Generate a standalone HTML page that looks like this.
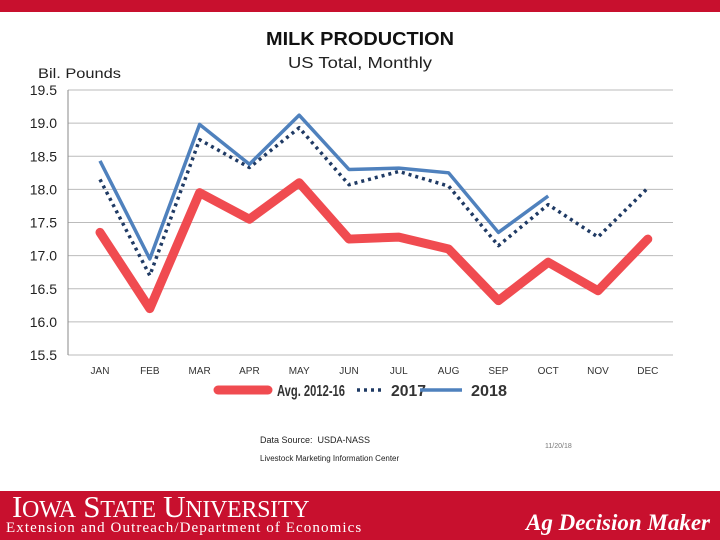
<!DOCTYPE html>
<html><head><meta charset="utf-8"><style>
body{margin:0;width:720px;height:540px;overflow:hidden;background:#fff;font-family:"Liberation Sans",sans-serif;position:relative}
.abs{position:absolute;white-space:nowrap}
</style></head><body>
<div class="abs" style="left:0;top:0;width:720px;height:12px;background:#c8102e"></div>
<svg id="chart" width="720" height="490" style="position:absolute;left:0;top:0" font-family="Liberation Sans, sans-serif"></svg>
<div class="abs" style="left:260px;top:435px;font-size:9px;color:#222">Data Source:&nbsp; USDA-NASS</div>
<div class="abs" style="left:260px;top:454px;font-size:8px;color:#222">Livestock Marketing Information Center</div>
<div class="abs" style="left:545px;top:443px;font-size:7px;color:#777">11/20/18</div>
<div class="abs" style="left:0;top:491px;width:720px;height:49px;background:#c8102e"></div>
<div class="abs" style="left:12px;top:489px;font-family:'Liberation Serif',serif;font-size:31px;color:#fff;letter-spacing:-0.3px">I<span style="font-size:24px">OWA</span> S<span style="font-size:24px">TATE</span> U<span style="font-size:24px">NIVERSITY</span></div>
<div class="abs" style="left:6px;top:520px;font-family:'Liberation Serif',serif;font-size:15px;letter-spacing:1.1px;color:#fff">Extension and Outreach/Department of Economics</div>
<div class="abs" style="left:526px;top:510px;font-family:'Liberation Serif',serif;font-size:23px;font-weight:bold;font-style:italic;color:#fff">Ag Decision Maker</div>
<script>
const months=["JAN","FEB","MAR","APR","MAY","JUN","JUL","AUG","SEP","OCT","NOV","DEC"];
const yTicks=[15.5,16.0,16.5,17.0,17.5,18.0,18.5,19.0,19.5];
const avg1216=[17.35,16.2,17.95,17.55,18.1,17.25,17.28,17.1,16.32,16.9,16.47,17.25];
const y2017=[18.15,16.7,18.75,18.33,18.93,18.07,18.27,18.05,17.15,17.77,17.28,18.02];
const y2018=[18.43,16.95,18.98,18.38,19.12,18.3,18.32,18.25,17.35,17.9];
const svg=document.getElementById('chart');const NS='http://www.w3.org/2000/svg';
function x(i){return 100+i*49.8;}
function y(v){return 90+(19.5-v)*66.25;}
function mk(t,a,p){const e=document.createElementNS(NS,t);for(const k in a)e.setAttribute(k,a[k]);(p||svg).appendChild(e);return e;}
let e;
e=mk('text',{x:360,y:45,'text-anchor':'middle','font-size':18,'font-weight':'bold',fill:'#111',textLength:188,lengthAdjust:'spacingAndGlyphs'});e.textContent='MILK PRODUCTION';


e=mk('text',{x:360,y:68,'text-anchor':'middle','font-size':16,fill:'#222',textLength:144,lengthAdjust:'spacingAndGlyphs'});e.textContent='US Total, Monthly';


e=mk('text',{x:38,y:78,'font-size':14,fill:'#222',textLength:83,lengthAdjust:'spacingAndGlyphs'});e.textContent='Bil. Pounds';


yTicks.forEach(v=>{
 const g=mk('line',{x1:68,x2:673,y1:y(v),y2:y(v),stroke:'#bbb','stroke-width':1});
 
 
 const t=mk('text',{x:57,y:y(v)+5,'text-anchor':'end','font-size':14,fill:'#222'});t.textContent=v.toFixed(1);
 
 
});
e=mk('line',{x1:68,x2:68,y1:90,y2:355,stroke:'#888'});


months.forEach((m,i)=>{
 const t=mk('text',{x:x(i),y:374,'text-anchor':'middle','font-size':10,fill:'#333'});t.textContent=m;
 
 
});
function line(arr,st,name){
 const p=mk('polyline',Object.assign({points:arr.map((v,i)=>x(i)+','+y(v)).join(' '),fill:'none','stroke-linejoin':'round'},st));
 
 
}
line(avg1216,{stroke:'#f04b50','stroke-width':9,'stroke-linecap':'round'},'series-avg-2012-16');
line(y2017,{stroke:'#1f3a64','stroke-width':3.5,'stroke-dasharray':'3 4'},'series-2017');
line(y2018,{stroke:'#4f81bd','stroke-width':3.5},'series-2018');
function leg(x1,x2,st,tx,tw,label,name){
 const g=mk('g',{});
 mk('line',Object.assign({x1:x1,x2:x2,y1:390,y2:390},st),g);
 const t=mk('text',{x:tx,y:396,'font-size':16,'font-weight':'bold',fill:'#333',textLength:tw,lengthAdjust:'spacingAndGlyphs'},g);t.textContent=label;
}
leg(218,268,{stroke:'#f04b50','stroke-width':9,'stroke-linecap':'round'},277,68,'Avg. 2012-16','legend-avg');
leg(357,385,{stroke:'#1f3a64','stroke-width':3.5,'stroke-dasharray':'3 4'},391,35,'2017','legend-2017');
leg(420,462,{stroke:'#4f81bd','stroke-width':3.5},471,36,'2018','legend-2018');
</script>
</body></html>
